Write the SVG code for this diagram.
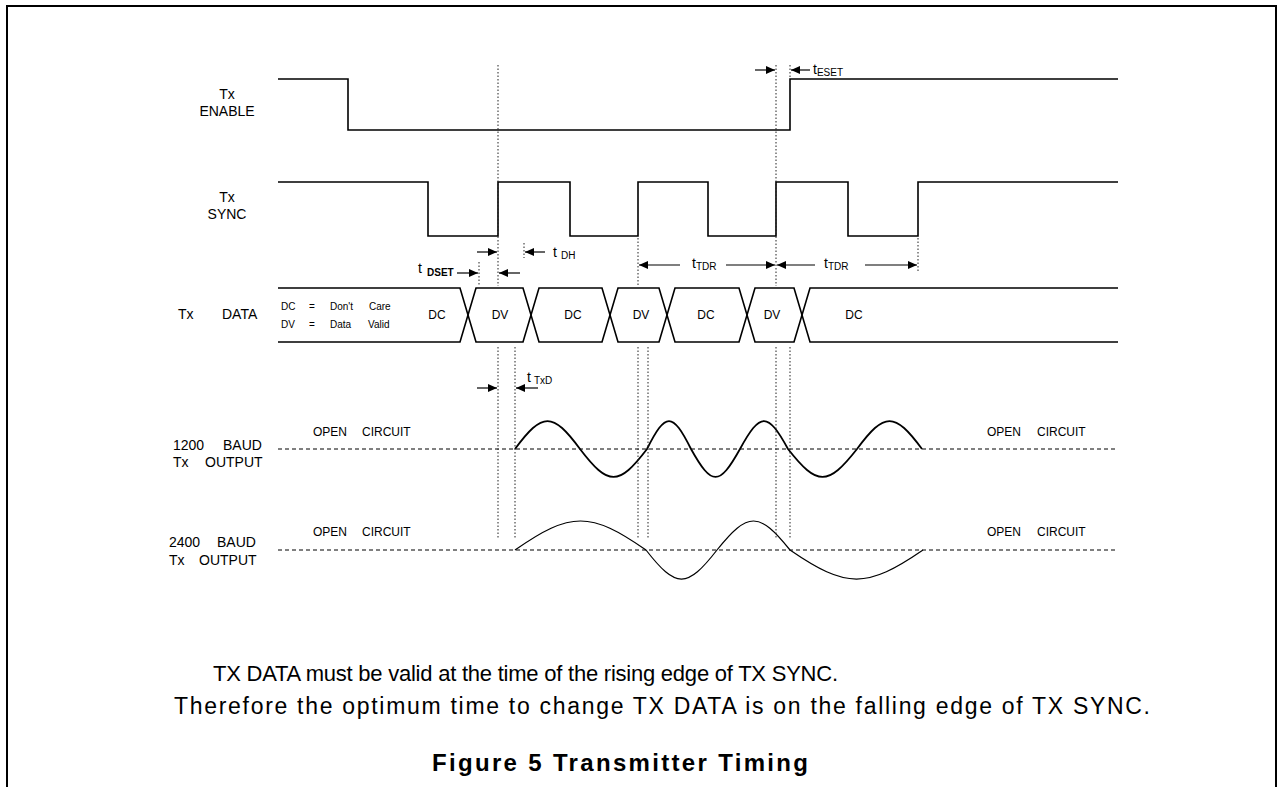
<svg xmlns="http://www.w3.org/2000/svg" width="1279" height="787" viewBox="0 0 1279 787">
<style>
text{font-family:"Liberation Sans",Arial,sans-serif;fill:#000}
.lbl{font-size:14px}
.sm{font-size:12px}
.xs{font-size:10px}
.sig{fill:none;stroke:#000;stroke-width:1.6}
.wave{fill:none;stroke:#000;stroke-width:1.8}
.wave2{fill:none;stroke:#000;stroke-width:1.2}
.dot{stroke:#222;stroke-width:1;stroke-dasharray:1.5 2;fill:none}
.dash{stroke:#000;stroke-width:1;stroke-dasharray:4 3;fill:none}
.arr{stroke:#000;stroke-width:1.2;fill:none;marker-end:url(#ah)}
.body1{font-size:22px}
.body2{font-size:23px}
.cap{font-size:24px;font-weight:bold}
</style>
<defs>
<marker id="ah" markerUnits="userSpaceOnUse" markerWidth="9" markerHeight="9" refX="9" refY="4" orient="auto">
<path d="M0,0 L9,4 L0,8 z" fill="#000"/>
</marker>
</defs>
<rect width="1279" height="787" fill="#fff"/>
<path d="M7,800 V6 H1276 V800" fill="none" stroke="#000" stroke-width="2"/>

<g id="tx-enable">
<text class="lbl" x="227" y="99" text-anchor="middle">Tx</text>
<text class="lbl" x="227" y="116" text-anchor="middle">ENABLE</text>
<path class="sig" d="M278,79 H348 V130 H790 V79 H1118"/>
</g>

<g id="tx-sync">
<text class="lbl" x="227" y="202" text-anchor="middle">Tx</text>
<text class="lbl" x="227" y="219" text-anchor="middle">SYNC</text>
<path class="sig" d="M278,182 H428 V236 H498 V182 H570 V236 H638 V182 H708 V236 H776 V182 H848 V236 H918 V182 H1118"/>
</g>

<g id="tx-data">
<text class="lbl" x="178" y="319">Tx<tspan x="222">DATA</tspan></text>
<text class="xs" x="281" y="310">DC<tspan x="309">=</tspan><tspan x="330">Don't</tspan><tspan x="369">Care</tspan></text>
<text class="xs" x="281" y="328">DV<tspan x="309">=</tspan><tspan x="330">Data</tspan><tspan x="368">Valid</tspan></text>
<path class="sig" d="M278,288 H460 L476,342 H523 L539,288 H602 L618,342 H659 L675,288 H739 L755,342 H794 L810,288 H1118"/>
<path class="sig" d="M278,342 H460 L476,288 H523 L539,342 H602 L618,288 H659 L675,342 H739 L755,288 H794 L810,342 H1118"/>
<g class="sm" text-anchor="middle">
<text x="437" y="319">DC</text>
<text x="500" y="319">DV</text>
<text x="573" y="319">DC</text>
<text x="641" y="319">DV</text>
<text x="706" y="319">DC</text>
<text x="772" y="319">DV</text>
<text x="854" y="319">DC</text>
</g>
</g>

<g id="out-1200">
<text class="lbl" x="173" y="450">1200<tspan x="223">BAUD</tspan></text>
<text class="lbl" x="173" y="467">Tx<tspan x="205">OUTPUT</tspan></text>
<text class="sm" x="313" y="436">OPEN<tspan x="362">CIRCUIT</tspan></text>
<text class="sm" x="987" y="436">OPEN<tspan x="1037">CIRCUIT</tspan></text>
<line class="dash" x1="278" y1="449" x2="1118" y2="449"/>
<path class="wave" d="M515,449 C542.6,411.7 552.4,411.7 580,449 C608.4,486.3 618.6,486.3 647,449 C665.7,411.7 672.3,411.7 691,449 C711.8,486.3 719.2,486.3 740,449 C760.4,411.7 767.6,411.7 788,449 C817.3,486.3 827.7,486.3 857,449 C884.6,411.7 894.4,411.7 922,449"/>
</g>

<g id="out-2400">
<text class="lbl" x="169" y="547">2400<tspan x="217">BAUD</tspan></text>
<text class="lbl" x="169" y="565">Tx<tspan x="199">OUTPUT</tspan></text>
<text class="sm" x="313" y="536">OPEN<tspan x="362">CIRCUIT</tspan></text>
<text class="sm" x="987" y="536">OPEN<tspan x="1037">CIRCUIT</tspan></text>
<line class="dash" x1="278" y1="550" x2="1118" y2="550"/>
<path class="wave2" d="M515,550 C570.6,511.3 590.4,511.3 646,550 C676.1,588.7 686.9,588.7 717,550 C748,511.3 759,511.3 790,550 C846.4,588.7 866.6,588.7 923,550"/>
</g>

<g id="connectors">
<line class="dot" x1="498" y1="65" x2="498" y2="286"/>
<line class="dot" x1="776" y1="65" x2="776" y2="286"/>
<line class="dot" x1="790" y1="65" x2="790" y2="78"/>
<line class="dot" x1="479" y1="262" x2="479" y2="286"/>
<line class="dot" x1="524" y1="243" x2="524" y2="258"/>
<line class="dot" x1="638" y1="238" x2="638" y2="286"/>
<line class="dot" x1="918" y1="238" x2="918" y2="272"/>
<line class="dot" x1="498" y1="347" x2="498" y2="538"/>
<line class="dot" x1="515" y1="347" x2="515" y2="538"/>
<line class="dot" x1="638" y1="347" x2="638" y2="538"/>
<line class="dot" x1="648" y1="347" x2="648" y2="538"/>
<line class="dot" x1="776" y1="347" x2="776" y2="538"/>
<line class="dot" x1="790" y1="347" x2="790" y2="538"/>

<line class="arr" x1="755" y1="70" x2="775" y2="70"/>
<line class="arr" x1="810" y1="70" x2="791" y2="70"/>
<text x="813" y="74" font-size="14">t<tspan font-size="10" dy="2">ESET</tspan></text>

<line class="arr" x1="477" y1="252" x2="497" y2="252"/>
<line class="arr" x1="545" y1="252" x2="525" y2="252"/>
<text x="553" y="257" font-size="14">t<tspan x="561" font-size="10" dy="2">DH</tspan></text>

<line class="arr" x1="457" y1="273" x2="478" y2="273"/>
<line class="arr" x1="520" y1="273" x2="499" y2="273"/>
<text x="418" y="273" font-size="14">t<tspan x="427" font-size="10" font-weight="bold" dy="3">DSET</tspan></text>

<line class="arr" x1="680" y1="265" x2="639" y2="265"/>
<line class="arr" x1="726" y1="265" x2="775" y2="265"/>
<text x="692" y="268" font-size="14">t<tspan font-size="10" dy="2">TDR</tspan></text>
<line class="arr" x1="815" y1="265" x2="777" y2="265"/>
<line class="arr" x1="865" y1="265" x2="917" y2="265"/>
<text x="824" y="268" font-size="14">t<tspan font-size="10" dy="2">TDR</tspan></text>

<line class="arr" x1="477" y1="388" x2="497" y2="388"/>
<line class="arr" x1="538" y1="388" x2="516" y2="388"/>
<text x="527" y="382" font-size="14">t<tspan x="534" font-size="10" dy="2">TxD</tspan></text>
</g>

<g id="notes">
<text class="body1" x="213" y="681" textLength="625">TX DATA must be valid at the time of the rising edge of TX SYNC.</text>
<text class="body2" x="174" y="714" textLength="976">Therefore the optimum time to change TX DATA is on the falling edge of TX SYNC.</text>
<text class="cap" x="432" y="771" textLength="376">Figure 5  Transmitter Timing</text>
</g>
</svg>
